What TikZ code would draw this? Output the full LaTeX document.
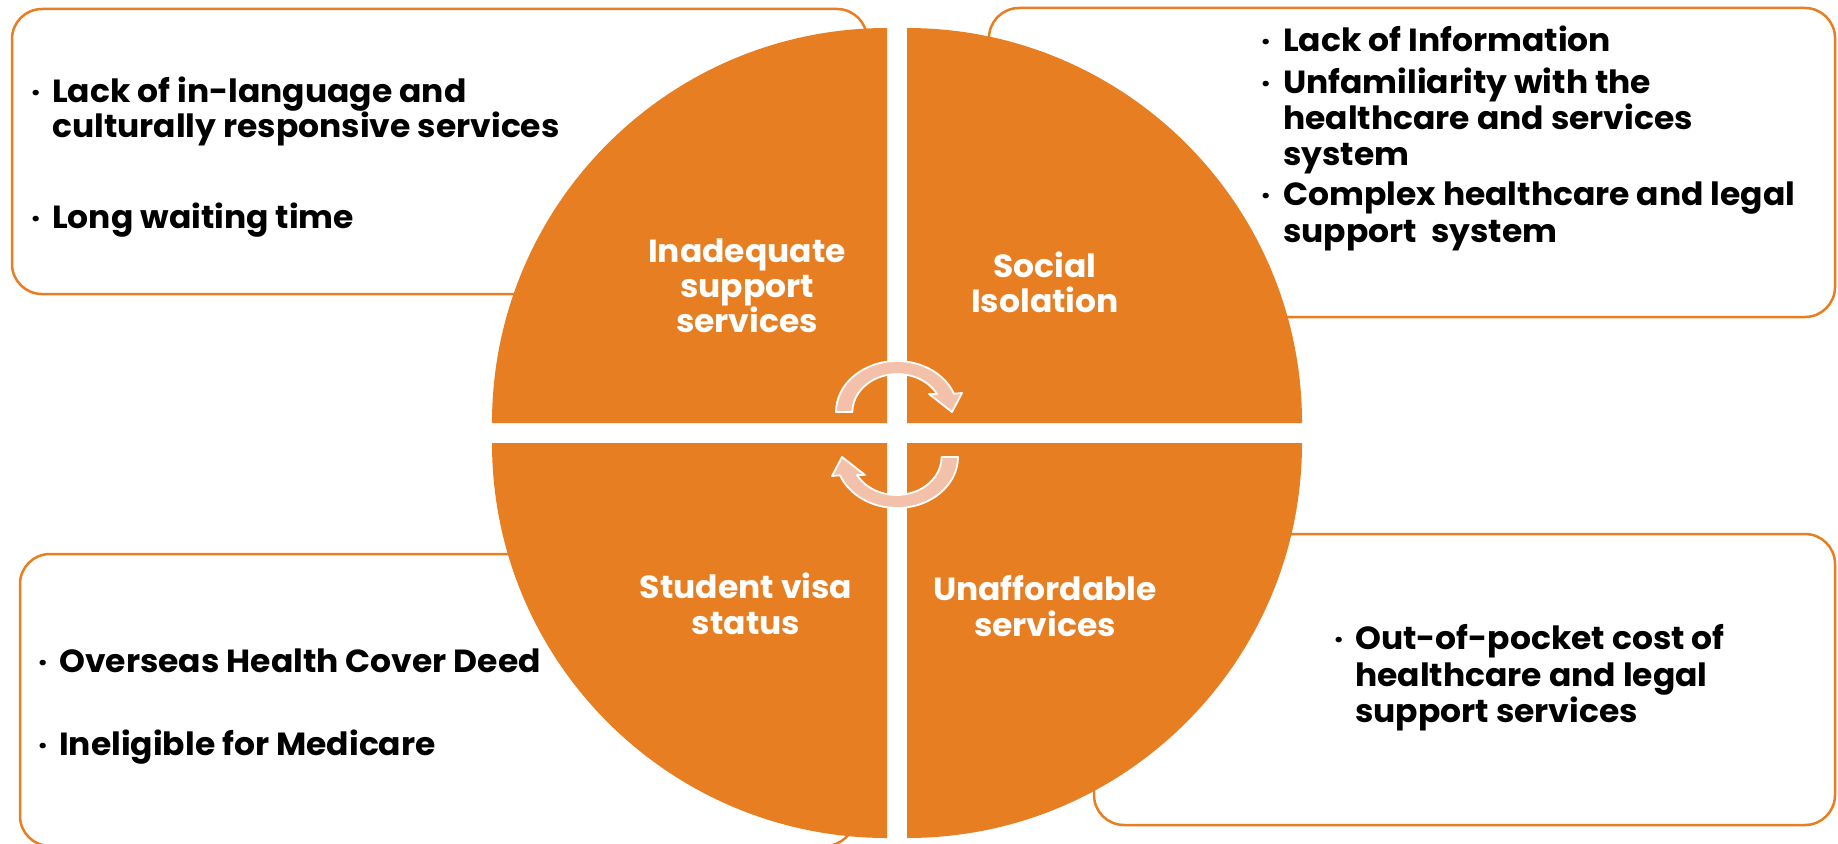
\documentclass[tikz,border=0pt]{standalone}
\usepackage{fontspec}
\setmainfont{Poppins}[FakeStretch=1.03]
\definecolor{orng}{RGB}{232,126,34}
\definecolor{peach}{RGB}{243,193,170}
\begin{document}
\begin{tikzpicture}[x=1pt,y=-1pt,
  box/.style={draw=orng,line width=2.5pt,rounded corners=30pt,fill=white},
  quad/.style={fill=orng},
  txt/.style={anchor=base west,inner sep=0pt,font=\fontsize{32}{36}\selectfont\bfseries,text=black},
  lbl/.style={anchor=base,inner sep=0pt,font=\fontsize{32}{36}\selectfont\bfseries,text=white},
  bul/.style={anchor=base west,inner sep=0pt,font=\fontsize{30}{36}\selectfont\bfseries,text=black},
  cyc/.style={fill=peach,draw=white,line width=1.8pt,line join=round}]
\path[use as bounding box,fill=white] (0,0) rectangle (1838,843);
% boxes
\draw[box] (12,9) rectangle (867,294);
\draw[box] (989,8) rectangle (1835,317);
\draw[box] (20,554) rectangle (855,846);
\draw[box] (1094,534) rectangle (1835,825);
% quadrants
\fill[quad] (887,423) -- (492,423) arc[start angle=180,end angle=270,radius=395] -- cycle;
\fill[quad] (907,423) -- (907,28) arc[start angle=270,end angle=360,radius=395] -- cycle;
\fill[quad] (907,443) -- (1302,443) arc[start angle=0,end angle=90,radius=395] -- cycle;
\fill[quad] (887,443) -- (887,838) arc[start angle=90,end angle=180,radius=395] -- cycle;
% cycle arrows
\path[cyc] (836,412) arc[start angle=180,end angle=339,x radius=61,y radius=51] -- (962,393) -- (952,412) -- (929,394) -- (937,394) arc[start angle=331.7,end angle=180,x radius=45,y radius=38] -- cycle;
\path[cyc,rotate around={180:(897,434.5)}] (836,412) arc[start angle=180,end angle=339,x radius=61,y radius=51] -- (962,393) -- (952,412) -- (929,394) -- (937,394) arc[start angle=331.7,end angle=180,x radius=45,y radius=38] -- cycle;
% quadrant labels
\node[lbl] (q1a) at (747,262) {Inadequate};
\node[lbl] (q1b) at (747,297) {support};
\node[lbl] (q1c) at (747,332) {services};
\node[lbl] (q2a) at (1045,277) {Social};
\node[lbl] (q2b) at (1045,312) {Isolation};
\node[lbl] (q3a) at (746,598) {Student visa};
\node[lbl] (q3b) at (746,634) {status};
\node[lbl] (q4a) at (1045,600) {Unaffordable};
\node[lbl] (q4b) at (1045,636) {services};
% top-left box
\node[bul] (b1) at (31,102) {·};
\node[txt] (t1a) at (52,102) {Lack of in-language and};
\node[txt] (t1b) at (52,137) {culturally responsive services};
\node[bul] (b2) at (31,228) {·};
\node[txt] (t2a) at (52,228) {Long waiting time};
% top-right box
\node[bul] (b3) at (1261,52) {·};
\node[txt] (t3a) at (1283,52) {Lack of Information};
\node[bul] (b4) at (1261,93) {·};
\node[txt] (t4a) at (1283,93) {Unfamiliarity with the};
\node[txt] (t4b) at (1283,129) {healthcare and services};
\node[txt] (t4c) at (1283,165) {system};
\node[bul] (b5) at (1261,205) {·};
\node[txt] (t5a) at (1283,205) {Complex healthcare and legal};
\node[txt] (t5b) at (1283,242) {support\ \ system};
% bottom-left box
\node[bul] (b6) at (38,672) {·};
\node[txt] (t6a) at (59,672) {Overseas Health Cover Deed};
\node[bul] (b7) at (38,755) {·};
\node[txt] (t7a) at (59,755) {Ineligible for Medicare};
% bottom-right box
\node[bul] (b8) at (1334,649) {·};
\node[txt] (t8a) at (1355,649) {Out-of-pocket cost of};
\node[txt] (t8b) at (1355,686) {healthcare and legal};
\node[txt] (t8c) at (1355,722) {support services};
\end{tikzpicture}
\end{document}
